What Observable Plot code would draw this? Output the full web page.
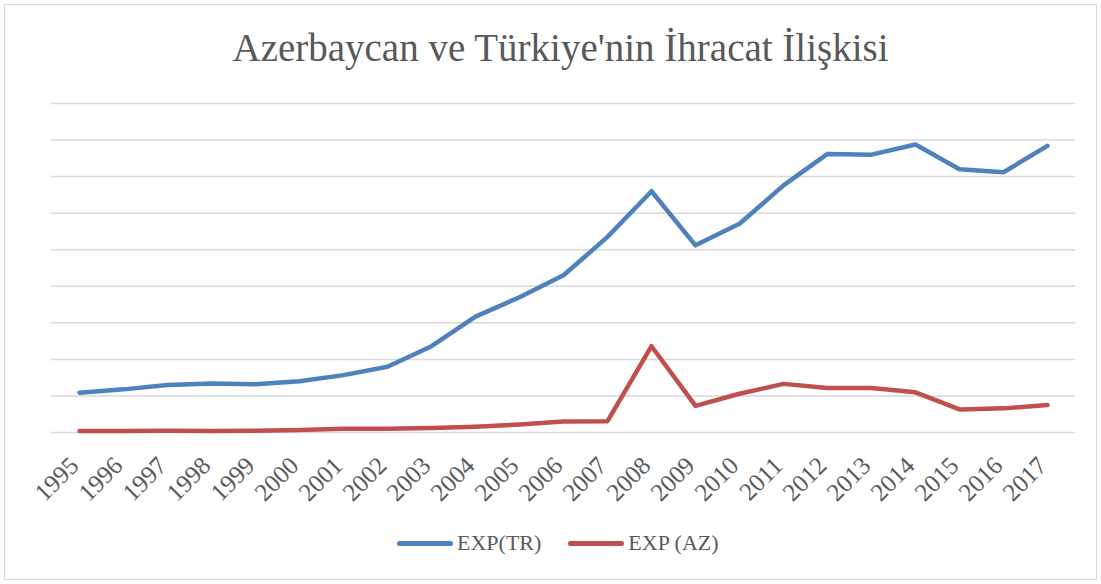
<!DOCTYPE html>
<html><head><meta charset="utf-8">
<script src="https://cdn.jsdelivr.net/npm/d3@7"></script>
<script src="https://cdn.jsdelivr.net/npm/@observablehq/plot@0.6"></script>
<style>
body{margin:0;background:#fff;}
#wrap{position:relative;width:1101px;height:584px;overflow:hidden;font-family:"Liberation Serif",serif;background:#fff;}
#frame{position:absolute;left:4px;top:4px;width:1093px;height:576px;border:1px solid #d9d9d9;box-sizing:border-box;}
#title{position:absolute;left:10px;width:1101px;top:28px;text-align:center;font-size:39px;color:#595959;line-height:1;white-space:nowrap;}
#chart{position:absolute;left:0;top:90px;}
#legend{position:absolute;left:397px;top:532px;display:flex;align-items:center;font-size:22px;color:#595959;line-height:1;white-space:nowrap;}
.sw{width:56px;height:5px;border-radius:3px;margin-right:4px;}
.item{display:flex;align-items:center;margin-right:27px;}
</style></head>
<body>
<div id="wrap">
<div id="frame"></div>
<div id="title">Azerbaycan ve Türkiye'nin İhracat İlişkisi</div>
<div id="chart"></div>
<div id="legend"></div>
</div>
<script>
const years = ["1995","1996","1997","1998","1999","2000","2001","2002","2003","2004","2005","2006","2007","2008","2009","2010","2011","2012","2013","2014","2015","2016","2017"];
const tr = [1.09,1.18,1.30,1.34,1.32,1.40,1.57,1.80,2.36,3.17,3.70,4.30,5.35,6.60,5.12,5.71,6.76,7.62,7.60,7.88,7.20,7.12,7.84];
const az = [0.04,0.04,0.05,0.04,0.05,0.07,0.10,0.10,0.12,0.16,0.22,0.30,0.31,2.36,0.73,1.06,1.33,1.22,1.22,1.10,0.63,0.66,0.75];
const seriesNames = ["EXP(TR)","EXP (AZ)"];
const seriesColors = ["#4f81bd","#c0504d"];
const gridTicks = [0,1,2,3,4,5,6,7,8,9];

const rows = [];
years.forEach((y,i)=>{
  rows.push({year:y, value:tr[i], s:seriesNames[0]});
  rows.push({year:y, value:az[i], s:seriesNames[1]});
});

const plot = Plot.plot({
  width:1101, height:420,
  marginLeft:51, marginRight:26, marginTop:13, marginBottom:78,
  style:{fontFamily:"Liberation Serif", color:"#595959", background:"transparent"},
  x:{type:"point", domain:years, padding:0.5},
  y:{domain:[0,9]},
  color:{domain:seriesNames, range:seriesColors},
  marks:[
    Plot.gridY(gridTicks, {stroke:"#d9d9d9", strokeOpacity:1, strokeWidth:1.5}),
    Plot.axisX({tickSize:0, tickRotate:-45, fontSize:25, tickPadding:28, dx:-5, dy:1, label:null}),
    Plot.axisY({ticks:[], label:null, tickSize:0}),
    Plot.line(rows, {x:"year", y:"value", z:"s", stroke:"s", strokeWidth:4.5, strokeLinecap:"round", strokeLinejoin:"round"})
  ]
});
document.getElementById("chart").appendChild(plot);

const leg = document.getElementById("legend");
seriesNames.forEach((n,i)=>{
  const it = document.createElement("div"); it.className="item";
  const sw = document.createElement("div"); sw.className="sw"; sw.style.background=seriesColors[i];
  const t = document.createElement("span"); t.textContent=n;
  it.appendChild(sw); it.appendChild(t); leg.appendChild(it);
});
</script>
</body></html>
